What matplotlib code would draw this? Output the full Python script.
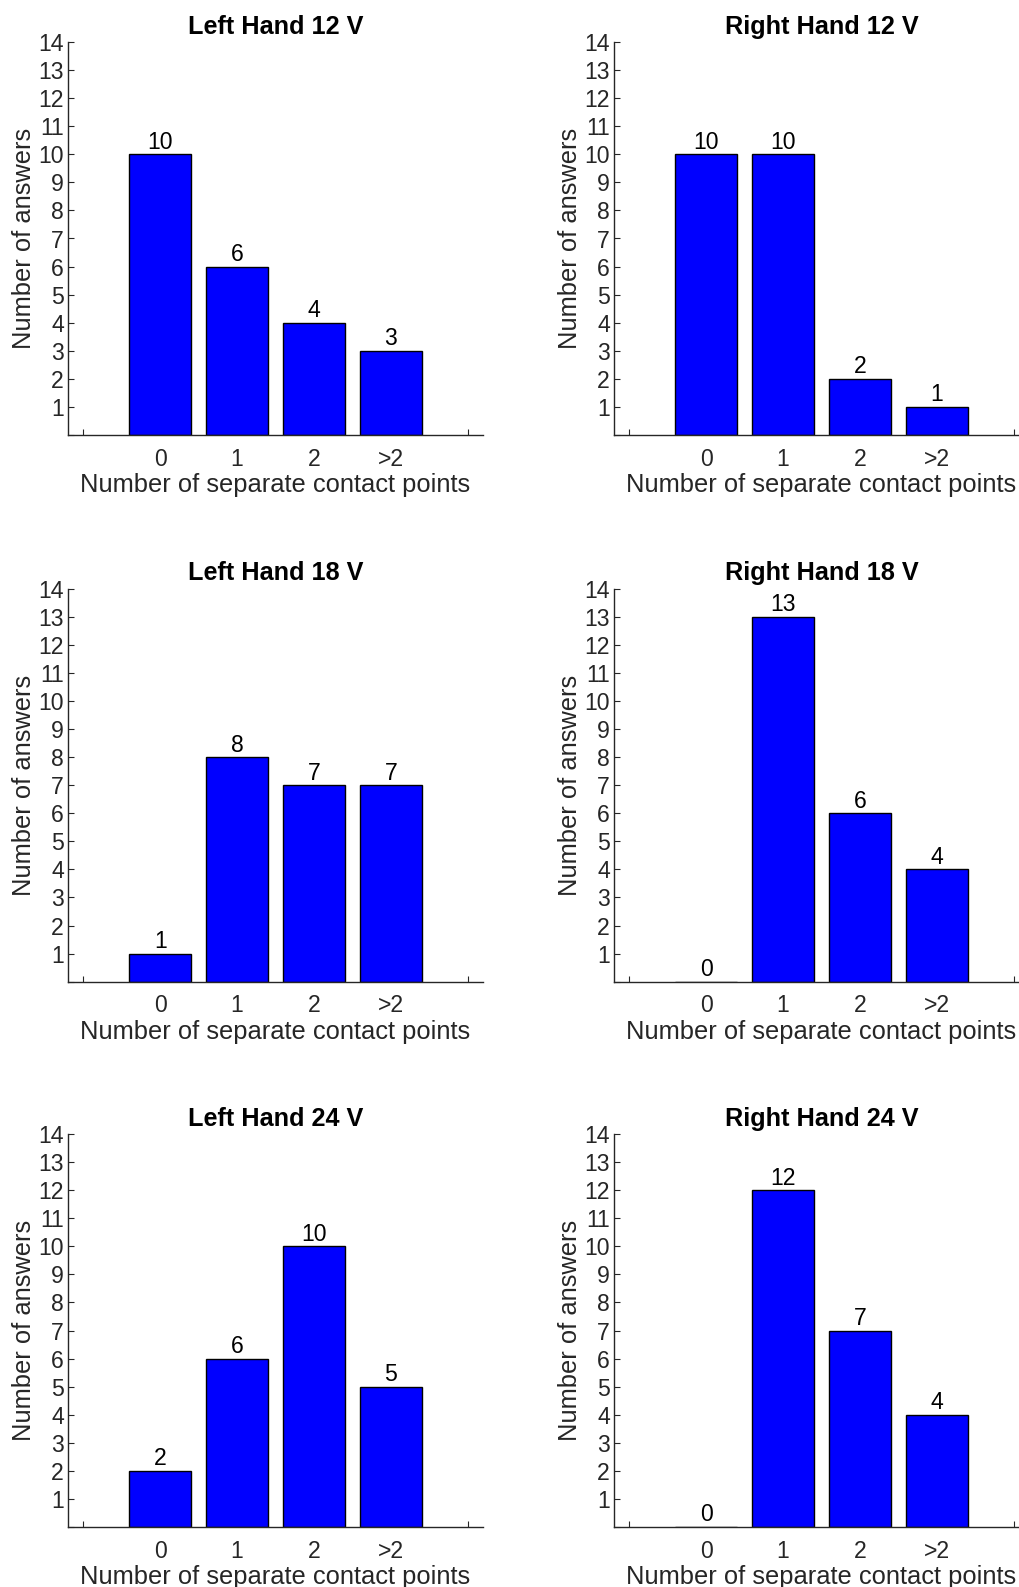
import matplotlib
matplotlib.use("Agg")
import matplotlib.pyplot as plt

plt.rcParams['font.family'] = ['Liberation Sans', 'DejaVu Sans']

categories = ["0", "1", "2", ">2"]
titles = [
    "Left Hand 12 V", "Right Hand 12 V",
    "Left Hand 18 V", "Right Hand 18 V",
    "Left Hand 24 V", "Right Hand 24 V",
]
left_12 = [10, 6, 4, 3]
right_12 = [10, 10, 2, 1]
left_18 = [1, 8, 7, 7]
right_18 = [0, 13, 6, 4]
left_24 = [2, 6, 10, 5]
right_24 = [0, 12, 7, 4]
series = [left_12, right_12, left_18, right_18, left_24, right_24]

W, H = 1020, 1587
fig = plt.figure(figsize=(W / 100, H / 100), dpi=100)

ax_w = 415 / W
ax_h = 393 / H
col_left = [68 / W, 614 / W]
row_bottom = [1 - 435 / H, 1 - 981.7 / H, 1 - 1527 / H]

spine_col = "#262626"
fs = 16.6
fs_lab = 18.4
fs_title = 18.2

for i, (title, vals) in enumerate(zip(titles, series)):
    r, c = divmod(i, 2)
    ax = fig.add_axes([col_left[c], row_bottom[r], ax_w, ax_h])
    x = list(range(len(categories)))
    ax.bar(x, vals, width=0.8, color="#0000FF", edgecolor="black",
           linewidth=1.0, zorder=2)
    for xi, v in zip(x, vals):
        ax.annotate(str(v), (xi, v), xytext=(0, 4), textcoords="offset points",
                    ha="center", va="baseline", fontsize=fs, color="black")
    ax.set_xlim(-1.2, 4.2)
    ax.set_ylim(0, 14)
    ax.spines["top"].set_visible(False)
    ax.spines["right"].set_visible(False)
    for s in ("left", "bottom"):
        ax.spines[s].set_color(spine_col)
        ax.spines[s].set_linewidth(1.0)
    ax.set_yticks(range(0, 15))
    ax.set_yticklabels([""] + [str(k) for k in range(1, 15)])
    ax.set_xticks([-1, 4])
    ax.set_xticklabels(["", ""])
    ax.set_xticks(x, minor=True)
    ax.set_xticklabels(categories, minor=True)
    ax.tick_params(axis="both", which="major", direction="in", length=4,
                   width=0.8, color=spine_col, labelcolor=spine_col,
                   labelsize=fs, pad=3)
    ax.tick_params(axis="x", which="minor", length=0, labelcolor=spine_col,
                   labelsize=fs, pad=9)
    ax.set_xlabel("Number of separate contact points", fontsize=fs_lab,
                  color=spine_col, labelpad=2)
    ax.set_ylabel("Number of answers", fontsize=fs_lab, color=spine_col,
                  labelpad=2)
    ax.set_title(title, fontsize=fs_title, fontweight="bold", color="black",
                 pad=6)

fig.savefig("out.png", dpi=100)
